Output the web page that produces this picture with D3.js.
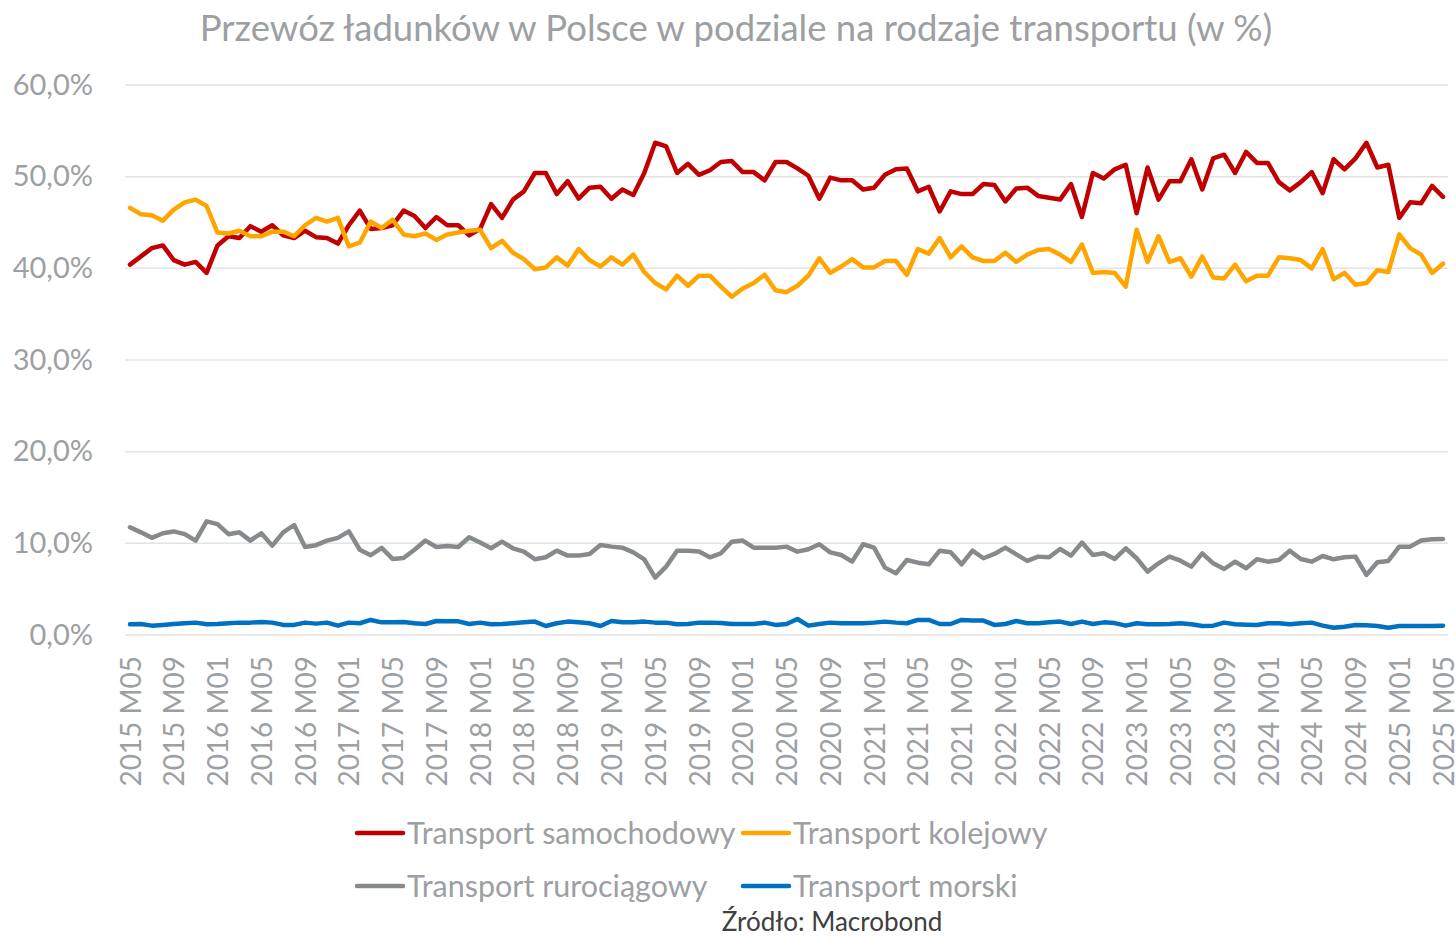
<!DOCTYPE html>
<html>
<head>
<meta charset="utf-8">
<script src="https://cdn.jsdelivr.net/npm/d3@7"></script>
<style>
  html, body { margin: 0; padding: 0; background: #fff; }
  svg { display: block; font-family: Lato, "Open Sans", sans-serif; }
</style>
</head>
<body>
<svg id="chart" width="1456" height="937"></svg>
<script>
// ---- DATA ----
const title = "Przewóz ładunków w Polsce w podziale na rodzaje transportu (w %)";
const source = "Źródło: Macrobond";

// monthly categories 2015 M05 .. 2025 M05
const categories = [];
for (let y = 2015, m = 5; y < 2025 || (y === 2025 && m <= 5); ) {
  categories.push(y + " M" + String(m).padStart(2, "0"));
  m++; if (m > 12) { m = 1; y++; }
}

const tickLabels = ["2015 M05","2015 M09","2016 M01","2016 M05","2016 M09","2017 M01","2017 M05","2017 M09",
  "2018 M01","2018 M05","2018 M09","2019 M01","2019 M05","2019 M09","2020 M01","2020 M05","2020 M09",
  "2021 M01","2021 M05","2021 M09","2022 M01","2022 M05","2022 M09","2023 M01","2023 M05","2023 M09",
  "2024 M01","2024 M05","2024 M09","2025 M01","2025 M05"];

const yTicks = [0, 10, 20, 30, 40, 50, 60];

const seriesNames = ["Transport samochodowy", "Transport kolejowy", "Transport rurociągowy", "Transport morski"];

const samochodowy = [40.4,41.3,42.2,42.5,40.9,40.4,40.7,39.5,42.5,43.5,43.3,44.6,44.0,44.7,43.6,43.3,44.1,43.4,43.3,42.7,44.7,46.3,44.3,44.4,44.7,46.3,45.7,44.4,45.6,44.7,44.7,
  43.6,44.3,47.0,45.5,47.5,48.4,50.4,50.4,48.1,49.5,47.6,48.8,48.9,47.6,48.6,48.0,50.4,53.7,53.3,50.4,51.4,50.2,50.7,51.6,51.7,50.5,50.5,49.6,51.6,51.6,
  50.9,50.1,47.6,49.9,49.6,49.6,48.6,48.8,50.2,50.8,50.9,48.4,48.9,46.2,48.4,48.1,48.1,49.2,49.1,47.3,48.7,48.8,47.9,47.7,47.5,49.2,45.6,50.4,49.8,50.8,
  51.3,46.0,51.0,47.5,49.5,49.5,51.9,48.6,52.0,52.4,50.4,52.7,51.5,51.5,49.4,48.5,49.4,50.5,48.2,51.9,50.8,52.0,53.7,51.0,51.3,45.5,47.2,47.1,49.0,47.8];

const kolejowy = [46.6,45.9,45.8,45.2,46.4,47.2,47.5,46.8,43.9,43.8,44.1,43.5,43.5,44.0,44.0,43.5,44.7,45.5,45.1,45.5,42.4,42.8,45.1,44.4,45.3,43.7,43.5,43.8,43.1,43.7,43.9,
  44.1,44.2,42.2,43.0,41.7,41.0,39.9,40.1,41.2,40.3,42.1,40.9,40.2,41.2,40.4,41.5,39.6,38.4,37.7,39.2,38.1,39.2,39.2,38.0,36.9,37.8,38.4,39.3,37.6,37.4,
  38.1,39.2,41.1,39.5,40.2,41.0,40.1,40.1,40.8,40.8,39.3,42.1,41.6,43.3,41.2,42.4,41.2,40.8,40.8,41.7,40.7,41.5,42.0,42.1,41.5,40.7,42.6,39.5,39.6,39.5,
  38.0,44.2,40.7,43.5,40.7,41.1,39.1,41.3,39.0,38.9,40.4,38.6,39.2,39.2,41.2,41.1,40.9,40.0,42.1,38.8,39.5,38.2,38.4,39.8,39.6,43.7,42.2,41.5,39.5,40.5];

const rurociagowy = [11.75,11.2,10.6,11.1,11.3,11.0,10.3,12.4,12.1,11.0,11.2,10.3,11.1,9.75,11.2,12.0,9.6,9.8,10.3,10.6,11.3,9.3,8.7,9.5,8.3,8.4,9.3,10.3,9.6,9.7,9.6,
  10.66,10.08,9.46,10.18,9.46,9.1,8.26,8.48,9.2,8.66,8.66,8.84,9.82,9.64,9.53,9.02,8.26,6.26,7.46,9.2,9.2,9.1,8.48,8.91,10.18,10.3,9.53,9.53,9.53,9.64,
  9.09,9.35,9.9,9.02,8.73,8.0,9.9,9.53,7.35,6.73,8.18,7.89,7.71,9.2,9.02,7.71,9.2,8.37,8.84,9.53,8.8,8.08,8.55,8.48,9.38,8.66,10.08,8.73,8.91,8.3,
  9.46,8.37,6.91,7.82,8.55,8.11,7.46,8.91,7.82,7.2,8.0,7.28,8.26,8.0,8.18,9.2,8.29,8.0,8.62,8.26,8.48,8.55,6.55,7.93,8.08,9.64,9.64,10.3,10.44,10.48];

const morski = [1.17,1.2,1.02,1.1,1.2,1.28,1.35,1.17,1.2,1.28,1.35,1.35,1.42,1.35,1.1,1.1,1.35,1.24,1.35,1.02,1.35,1.28,1.64,1.38,1.38,1.42,1.28,1.2,1.53,1.49,1.49,
  1.2,1.35,1.17,1.2,1.28,1.38,1.46,0.98,1.28,1.46,1.38,1.28,0.98,1.53,1.38,1.38,1.46,1.35,1.35,1.17,1.2,1.35,1.35,1.31,1.2,1.2,1.2,1.35,1.1,1.2,
  1.75,1.02,1.2,1.35,1.28,1.28,1.28,1.35,1.46,1.35,1.28,1.64,1.64,1.2,1.2,1.64,1.57,1.57,1.1,1.2,1.53,1.28,1.28,1.38,1.46,1.2,1.46,1.2,1.38,1.3,
  1.02,1.28,1.17,1.17,1.2,1.28,1.17,0.98,1.02,1.35,1.17,1.13,1.1,1.28,1.28,1.17,1.28,1.35,1.02,0.8,0.91,1.1,1.06,0.98,0.8,0.98,0.98,0.98,0.98,1.02];

const seriesColors = ["#c00000", "#ffa500", "#878a8c", "#0070c0"];

// ---- CHART ----
const svg = d3.select("#chart");
const textGray = "#9da0a2";
const fontFam = "Lato, 'Open Sans', sans-serif";

const x = d3.scalePoint().domain(categories).range([130, 1443]);
const y = d3.scaleLinear().domain([0, 60]).range([635, 85]);

// title
svg.append("text")
  .attr("x", 736).attr("y", 41)
  .attr("text-anchor", "middle")
  .attr("font-size", 36.5)
  .attr("fill", textGray)
  .text(title);

// gridlines
svg.append("g").selectAll("line").data(yTicks).join("line")
  .attr("x1", 125).attr("x2", 1448)
  .attr("y1", d => y(d)).attr("y2", d => y(d))
  .attr("stroke", "#e3e3e3").attr("stroke-width", 1.5);

// y axis labels
const yAxis = d3.axisLeft(y).tickValues(yTicks).tickSize(0).tickPadding(0)
  .tickFormat(d => d3.format(".1f")(d).replace(".", ",") + "%");
const yg = svg.append("g").attr("transform", "translate(93,0)").call(yAxis);
yg.select(".domain").remove();
yg.selectAll("text").attr("font-size", 29).attr("fill", textGray)
  .attr("font-family", fontFam);

// x axis labels (rotated)
const xAxis = d3.axisBottom(x).tickValues(tickLabels).tickSize(0).tickPadding(0);
const xg = svg.append("g").attr("transform", "translate(0,656)").call(xAxis);
xg.select(".domain").remove();
xg.selectAll("text")
  .attr("font-size", 28).attr("fill", textGray)
  .attr("font-family", fontFam)
  .attr("text-anchor", "end")
  .attr("transform", "rotate(-90)")
  .attr("x", 0).attr("y", 0).attr("dy", "0.36em");

// lines (first series drawn first, as in the source)
const allSeries = [samochodowy, kolejowy, rurociagowy, morski];
const line = d3.line().x((d, i) => x(categories[i])).y(d => y(d));
svg.append("g").selectAll("path").data([0, 1, 2, 3]).join("path")
  .attr("d", i => line(allSeries[i]))
  .attr("fill", "none")
  .attr("stroke", i => seriesColors[i])
  .attr("stroke-width", 4.5)
  .attr("stroke-linejoin", "round")
  .attr("stroke-linecap", "round");

// legend
const legendPos = [[357, 833], [743, 833], [357, 886], [743, 886]];
const lg = svg.append("g").selectAll("g").data(seriesNames).join("g")
  .attr("transform", (d, i) => `translate(${legendPos[i][0]},${legendPos[i][1]})`);
lg.append("line").attr("x1", 0).attr("x2", 46).attr("y1", 0).attr("y2", 0)
  .attr("stroke", (d, i) => seriesColors[i]).attr("stroke-width", 4.5).attr("stroke-linecap", "round");
lg.append("text").attr("x", 50).attr("y", 0).attr("dy", "0.35em")
  .attr("font-size", 30.5).attr("fill", textGray).text(d => d);

// source
svg.append("text").attr("x", 832).attr("y", 931)
  .attr("text-anchor", "middle").attr("font-size", 26).attr("fill", "#404040")
  .text(source);
</script>
</body>
</html>
